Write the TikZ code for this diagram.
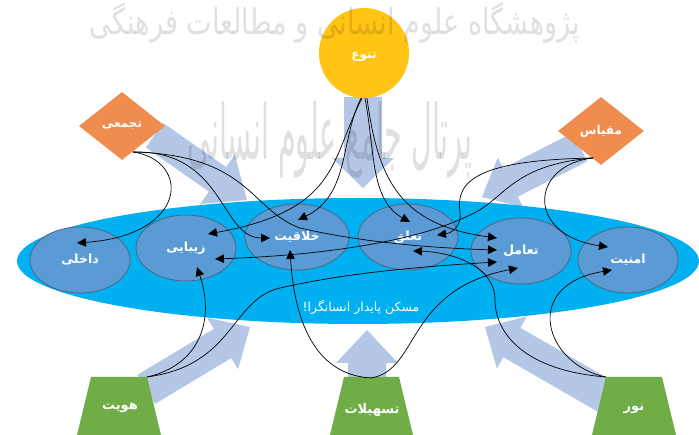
\documentclass[tikz,border=0pt]{standalone}
\usepackage{fontspec}
\newfontfamily\fa[Script=Arabic]{DejaVu Sans}
\TeXXeTstate=1
\usetikzlibrary{shapes.geometric,arrows.meta}
\definecolor{bigblue}{RGB}{0,176,240}
\definecolor{innerblue}{RGB}{91,155,213}
\definecolor{innerborder}{RGB}{80,100,130}
\definecolor{orangeD}{RGB}{239,140,78}
\definecolor{yellowC}{RGB}{255,196,20}
\definecolor{greenT}{RGB}{112,173,71}
\definecolor{arrowblue}{RGB}{180,199,231}
\newcommand{\fatext}[1]{{\fa\beginR #1\endR}}
\newcommand{\bigarrow}[6]{\fill[arrowblue,shift={(#1)},rotate=#2] (0,0) -- (-#4,#5) -- (-#4,#6) -- (-#3,#6) -- (-#3,-#6) -- (-#4,-#6) -- (-#4,-#5) -- cycle;}
\begin{document}
\begin{tikzpicture}[x=1pt,y=-1pt,
  inner/.style={ellipse,fill=innerblue,draw=innerborder,line width=0.8pt,minimum width=100pt,minimum height=66pt,inner sep=0pt,text=white,font=\fa\bfseries\fontsize{12.5}{14}\selectfont},
  dia/.style={diamond,fill=orangeD,minimum width=86pt,minimum height=68pt,inner sep=0pt,text=white,font=\fa\bfseries\fontsize{12}{14}\selectfont},
  lbl/.style={text=white,inner sep=0pt,font=\fa\bfseries\fontsize{13}{15}\selectfont},
  trap/.style={fill=greenT},
  conn/.style={draw=black,line width=0.7pt,-{Triangle[length=9pt,width=8.5pt]}},
  wm/.style={text=black,text opacity=0.12,inner sep=0pt}]
\useasboundingbox (0,0) rectangle (699,435);
\fill[white] (0,0) rectangle (699,435);
% broad arrows
\bigarrow{247,200}{-35}{113}{36}{30}{15}
\bigarrow{363,188}{-90}{91}{30}{31}{19}
\bigarrow{482,197}{-153}{110}{32}{28}{16}
\bigarrow{250,327}{31}{121}{32}{30}{17}
\bigarrow{367,330}{90}{48}{33}{31}{19}
\bigarrow{485,327}{150}{140}{31}{30}{17}
% big ellipse
\node[ellipse,fill=bigblue,minimum width=682pt,minimum height=126pt,inner sep=0pt] (habitat) at (358,261) {};
\node[text=white,inner sep=0pt,font=\fa\fontsize{12.5}{14}\selectfont] (habitattext) at (361,307) {\beginR مسکن پایدار انسانگرا!\endR};
% inner ellipses
\node[inner] (dakheli) at (80,260) {\fatext{داخلی}};
\node[inner] (zibaei) at (186,248) {\fatext{زیبایی}};
\node[inner,minimum width=104pt] (khalaghiat) at (297,237) {\fatext{خلاقیت}};
\node[inner] (taalogh) at (408,237) {\fatext{تعلق}};
\node[inner] (taamol) at (521,251) {\fatext{تعامل}};
\node[inner] (amniat) at (628,260) {\fatext{امنیت}};
% top shapes
\node[dia] (tajamoi) at (122,126) {\fatext{تجمعی}};
\node[dia] (meghyas) at (601,131) {\fatext{مقیاس}};
\node[circle,fill=yellowC,minimum size=90pt,inner sep=0pt] (tanavo) at (364,53) {};
% trapezoids
\fill[trap] (91,377) -- (147,377) -- (161,435) -- (77,435) -- cycle;
\fill[trap] (344,377) -- (399,377) -- (413,435) -- (330,435) -- cycle;
\fill[trap] (606,377) -- (662,377) -- (676,435) -- (592,435) -- cycle;
\node[lbl] (hoviat) at (120,408) {\fatext{هویت}};
\node[lbl] (tashilat) at (372,410) {\fatext{تسهیلات}};
\node[lbl] (noor) at (634,409) {\fatext{نور}};
% start points
\coordinate (tajS) at ([shift={(11,26)}]tajamoi.center);
\coordinate (mS) at ([shift={(-8,27)}]meghyas.center);
\coordinate (hovS) at ([shift={(27,-31)}]hoviat.center);
\coordinate (tashS) at ([shift={(-1,-32)}]tashilat.center);
\coordinate (noorS) at ([shift={(-28,-32)}]noor.center);
% connectors
\draw[conn] (tajS) .. controls (190,160) and (190,235) .. ([shift={(-3,-17)}]dakheli.center);
\draw[conn] (tajS) .. controls (225,150) and (220,238) .. ([shift={(-27,1)}]khalaghiat.center);
\draw[conn] (tajS) .. controls (250,155) and (250,210) .. (300,228) .. controls (360,242) and (430,248) .. ([shift={(-24,-1)}]taamol.center);
\draw[conn] ([shift={(-3,0)}]tanavo.south) .. controls (340,140) and (350,195) .. ([shift={(1,-17)}]khalaghiat.center);
\draw[conn] ([shift={(-2,0)}]tanavo.south) .. controls (330,160) and (340,210) .. ([shift={(22,-14)}]zibaei.center);
\draw[conn] ([shift={(1,0)}]tanavo.south) .. controls (375,150) and (370,200) .. ([shift={(2,-15)}]taalogh.center);
\draw[conn] ([shift={(3,0)}]tanavo.south) .. controls (378,180) and (400,225) .. ([shift={(-24,-13)}]taamol.center);
\draw[conn] (mS) .. controls (480,160) and (455,180) .. (460,212) .. controls (462,226) and (452,233) .. ([shift={(29,-2)}]taalogh.center);
\draw[conn] (mS) .. controls (510,165) and (505,200) .. (470,215) .. controls (420,240) and (330,255) .. ([shift={(29,11)}]zibaei.center);
\draw[conn] (mS) .. controls (530,165) and (525,235) .. ([shift={(-20,-13)}]amniat.center);
\draw[conn] (noorS) .. controls (520,370) and (495,330) .. (495,300) .. controls (495,265) and (450,252) .. ([shift={(5,14)}]taalogh.center);
\draw[conn] (noorS) .. controls (545,365) and (520,285) .. ([shift={(-16,10)}]amniat.center);
\draw[conn] (tashS) .. controls (320,375) and (295,330) .. ([shift={(-7,13)}]khalaghiat.center);
\draw[conn] (tashS) .. controls (420,370) and (405,290) .. ([shift={(-3,17)}]taamol.center);
\draw[conn] (hovS) .. controls (200,365) and (215,320) .. ([shift={(11,19)}]zibaei.center);
\draw[conn] (hovS) .. controls (235,365) and (230,300) .. (280,288) .. controls (350,272) and (430,266) .. ([shift={(-24,11)}]taamol.center);
% watermark
\node[wm] (wm1) at (335,23) {\resizebox{490pt}{32pt}{\fa\beginR پژوهشگاه علوم انسانی و مطالعات فرهنگی\endR}};
\node[wm] (wm2) at (330,140) {\resizebox{285pt}{58pt}{\fa\beginR پرتال جامع علوم انسانی\endR}};
% label of the yellow circle, kept above the watermark
\node[text=white,inner sep=0pt,font=\fa\bfseries\fontsize{12}{14}\selectfont] (tanavolabel) at ([shift={(0,4)}]tanavo.center) {\fatext{تنوع}};
\end{tikzpicture}
\end{document}
